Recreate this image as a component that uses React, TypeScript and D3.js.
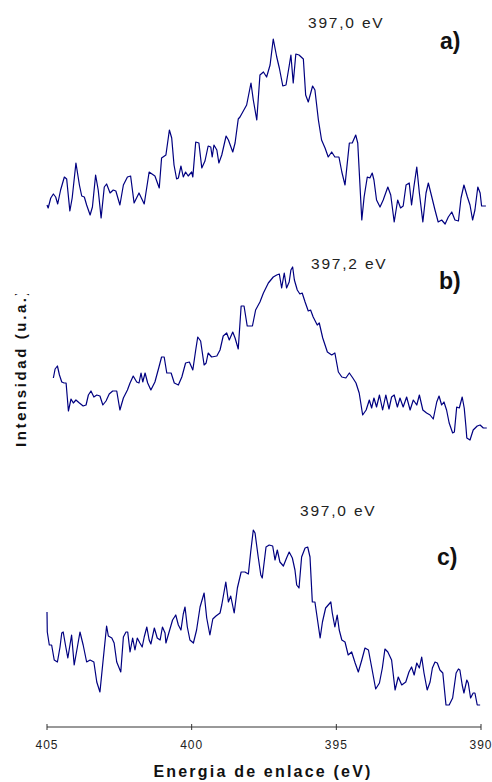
import React from 'react';
import {scaleLinear, line} from 'd3';

// XPS N1s spectra, [binding energy (eV), intensity (a.u.)]
const seriesA: [number, number][] = [
	[405.0, 42], [404.96, 39], [404.87, 49], [404.78, 53], [404.70, 50], [404.63, 43], [404.53, 57], [404.40, 70],
	[404.32, 68], [404.21, 36], [404.13, 49], [404.00, 84], [403.88, 62], [403.80, 51], [403.71, 50], [403.63, 42],
	[403.51, 32], [403.43, 40], [403.32, 72], [403.23, 57], [403.13, 29], [403.02, 60], [402.94, 63], [402.82, 54],
	[402.71, 57], [402.62, 56], [402.48, 42], [402.36, 62], [402.22, 70], [402.11, 71], [401.99, 44], [401.82, 54],
	[401.64, 43], [401.47, 75], [401.27, 71], [401.12, 59], [401.04, 89], [400.89, 92], [400.77, 117], [400.69, 109],
	[400.61, 82], [400.52, 68], [400.46, 69], [400.37, 81], [400.29, 70], [400.21, 75], [400.12, 71], [400.00, 75],
	[399.96, 70], [399.86, 105], [399.75, 104], [399.65, 79], [399.54, 86], [399.43, 101], [399.34, 100], [399.29, 90],
	[399.23, 102], [399.13, 97], [399.06, 84], [398.96, 92], [398.81, 111], [398.73, 107], [398.58, 95], [398.50, 104],
	[398.39, 128], [398.33, 130], [398.10, 142], [397.95, 164], [397.87, 147], [397.75, 127], [397.64, 172], [397.52, 175],
	[397.41, 170], [397.29, 182], [397.18, 208], [397.06, 190], [396.97, 179], [396.85, 161], [396.74, 162], [396.63, 181],
	[396.57, 192], [396.49, 164], [396.40, 193], [396.29, 192], [396.14, 188], [396.06, 152], [395.97, 145], [395.82, 161],
	[395.74, 157], [395.62, 127], [395.51, 107], [395.39, 99], [395.28, 90], [395.16, 95], [395.05, 90], [394.91, 90],
	[394.81, 75], [394.70, 62], [394.55, 104], [394.45, 104], [394.33, 112], [394.26, 104], [394.12, 27], [394.04, 50],
	[393.93, 70], [393.84, 69], [393.76, 74], [393.70, 67], [393.61, 47], [393.49, 40], [393.38, 47], [393.22, 60],
	[393.12, 52], [393.00, 25], [392.88, 47], [392.78, 39], [392.69, 41], [392.59, 62], [392.48, 64], [392.40, 42],
	[392.32, 60], [392.22, 80], [392.13, 54], [392.01, 25], [391.90, 54], [391.82, 64], [391.70, 50], [391.59, 37],
	[391.48, 25], [391.36, 27], [391.24, 23], [391.13, 30], [391.01, 35], [390.90, 27], [390.78, 26], [390.69, 49],
	[390.59, 62], [390.47, 50], [390.38, 42], [390.29, 27], [390.21, 37], [390.11, 60], [390.03, 54], [389.98, 41],
	[389.83, 41]
];

const seriesB: [number, number][] = [
	[404.78, 69], [404.72, 78], [404.64, 81], [404.57, 72], [404.49, 65], [404.41, 64], [404.34, 64], [404.26, 36],
	[404.17, 48], [404.09, 44], [404.00, 47], [403.88, 44], [403.75, 41], [403.65, 42], [403.57, 52], [403.48, 56],
	[403.38, 50], [403.28, 52], [403.17, 51], [403.07, 42], [402.96, 46], [402.85, 53], [402.73, 56], [402.59, 56],
	[402.48, 37], [402.36, 49], [402.22, 57], [402.13, 64], [402.02, 71], [401.90, 65], [401.82, 64], [401.75, 74],
	[401.69, 65], [401.61, 74], [401.52, 64], [401.41, 57], [401.27, 65], [401.13, 80], [401.04, 90], [400.95, 90],
	[400.86, 74], [400.71, 74], [400.60, 64], [400.46, 62], [400.34, 70], [400.21, 84], [400.08, 85], [399.96, 77],
	[399.86, 97], [399.79, 110], [399.69, 106], [399.57, 82], [399.50, 84], [399.43, 94], [399.31, 90], [399.13, 91],
	[399.02, 97], [398.91, 111], [398.79, 114], [398.70, 107], [398.58, 115], [398.50, 109], [398.39, 98], [398.29, 141],
	[398.19, 141], [398.08, 121], [397.90, 121], [397.79, 137], [397.64, 145], [397.52, 154], [397.35, 164], [397.18, 170],
	[397.06, 172], [396.97, 173], [396.89, 159], [396.80, 174], [396.72, 159], [396.63, 165], [396.57, 177], [396.51, 180],
	[396.45, 167], [396.35, 157], [396.26, 153], [396.18, 154], [396.08, 145], [395.97, 136], [395.89, 137], [395.80, 130],
	[395.66, 122], [395.59, 124], [395.47, 109], [395.31, 95], [395.16, 92], [395.05, 94], [394.93, 75], [394.81, 70],
	[394.67, 69], [394.55, 74], [394.43, 69], [394.32, 64], [394.21, 54], [394.09, 32], [393.97, 37], [393.86, 47],
	[393.78, 39], [393.70, 49], [393.61, 40], [393.51, 52], [393.40, 37], [393.29, 52], [393.18, 38], [393.09, 50],
	[393.00, 52], [392.89, 40], [392.80, 49], [392.69, 40], [392.57, 50], [392.45, 37], [392.34, 47], [392.22, 42],
	[392.13, 52], [392.01, 37], [391.88, 34], [391.76, 32], [391.65, 28], [391.53, 45], [391.45, 51], [391.36, 42],
	[391.28, 45], [391.19, 37], [391.10, 24], [390.98, 14], [390.92, 15], [390.84, 40], [390.75, 39], [390.65, 50],
	[390.58, 39], [390.52, 20], [390.49, 9], [390.38, 7], [390.27, 17], [390.13, 21], [390.03, 22], [389.92, 19],
	[389.80, 19]
];

const seriesC: [number, number][] = [
	[405.0, 115], [404.99, 95], [404.92, 82], [404.84, 82], [404.75, 67], [404.64, 65], [404.55, 80], [404.49, 94],
	[404.44, 95], [404.35, 80], [404.28, 69], [404.15, 92], [404.06, 62], [403.95, 80], [403.86, 95], [403.75, 82],
	[403.63, 65], [403.51, 67], [403.38, 65], [403.28, 45], [403.17, 35], [403.07, 64], [402.94, 101], [402.88, 91],
	[402.76, 89], [402.68, 84], [402.59, 65], [402.45, 55], [402.36, 90], [402.27, 95], [402.21, 95], [402.13, 75],
	[402.04, 89], [401.96, 77], [401.88, 89], [401.79, 84], [401.71, 80], [401.64, 90], [401.55, 100], [401.47, 87],
	[401.41, 83], [401.29, 99], [401.19, 89], [401.09, 87], [401.01, 100], [400.92, 94], [400.89, 84], [400.77, 96],
	[400.66, 107], [400.55, 112], [400.46, 102], [400.37, 97], [400.29, 113], [400.23, 120], [400.15, 100], [400.06, 87],
	[399.94, 84], [399.83, 97], [399.71, 120], [399.57, 134], [399.48, 109], [399.37, 92], [399.27, 108], [399.16, 111],
	[399.02, 114], [398.96, 122], [398.82, 145], [398.73, 125], [398.65, 131], [398.53, 114], [398.42, 139], [398.29, 155],
	[398.16, 155], [398.04, 153], [397.96, 175], [397.87, 197], [397.81, 194], [397.70, 170], [397.61, 152], [397.56, 149],
	[397.43, 180], [397.32, 182], [397.20, 181], [397.12, 167], [397.04, 177], [396.95, 165], [396.83, 161], [396.72, 169],
	[396.63, 175], [396.52, 169], [396.43, 157], [396.37, 142], [396.29, 139], [396.20, 170], [396.08, 179], [395.99, 180],
	[395.91, 170], [395.83, 125], [395.74, 125], [395.66, 109], [395.56, 89], [395.48, 105], [395.37, 119], [395.28, 122],
	[395.19, 125], [395.14, 114], [395.05, 100], [394.97, 112], [394.90, 97], [394.81, 87], [394.70, 85], [394.59, 72],
	[394.47, 75], [394.35, 64], [394.24, 55], [394.12, 67], [394.01, 79], [393.89, 77], [393.78, 60], [393.64, 38],
	[393.51, 44], [393.41, 59], [393.32, 78], [393.22, 75], [393.09, 67], [392.97, 37], [392.86, 50], [392.74, 42],
	[392.60, 45], [392.49, 55], [392.40, 60], [392.31, 52], [392.22, 64], [392.13, 59], [392.05, 70], [391.97, 54],
	[391.86, 37], [391.76, 45], [391.68, 59], [391.59, 65], [391.51, 64], [391.42, 57], [391.32, 54], [391.21, 22],
	[391.10, 22], [390.98, 29], [390.86, 54], [390.78, 58], [390.73, 57], [390.65, 42], [390.59, 34], [390.49, 47],
	[390.44, 44], [390.36, 29], [390.27, 34], [390.21, 34], [390.13, 22], [390.03, 22]
];

const spectra = [seriesA, seriesB, seriesC];
const offsets = [480, 280, 0];
const panelTags = ['a)', 'b)', 'c)'];
const peakLabels = ['397,0 eV', '397,2 eV', '397,0 eV'];
const xTicks = [405, 400, 395, 390];

const W = 492, H = 782;
const axisY = 727;
const font = '"Liberation Sans", Arial, sans-serif';

const x = scaleLinear().domain([405, 390]).range([47, 481]);
const y = scaleLinear().domain([0, 700]).range([axisY, 27]);

// label placement (pixels)
const peakPos = [[308, 28], [311, 269], [300, 516]];
const tagPos = [[440, 49], [439, 289], [437, 565]];

export default function App() {
	return (
		<svg width={W} height={H} style={{position: 'absolute', left: 0, top: 0, background: '#fff'}}>
			<defs>
				<clipPath id='ylab-clip'>
					<rect x={0} y={294} width={45} height={300} />
				</clipPath>
			</defs>

			{spectra.map((s, i) => {
				const gen = line<[number, number]>()
					.x(d => x(d[0]))
					.y(d => y(d[1] + offsets[i]));
				return (
					<path key={i} d={gen(s) || ''} fill='none' stroke='#000080' strokeWidth={1.2} strokeLinejoin='round' />
				);
			})}

			{peakLabels.map((t, i) => (
				<text key={'p' + i} x={peakPos[i][0]} y={peakPos[i][1]} fontFamily={font} fontSize={15.5}
					letterSpacing={1.8} fill='#222'>{t}</text>
			))}
			{panelTags.map((t, i) => (
				<text key={'t' + i} x={tagPos[i][0]} y={tagPos[i][1]} fontFamily={font} fontSize={23}
					fontWeight='bold' fill='#111'>{t}</text>
			))}

			{/* x axis */}
			<g>
				<line x1={x(405)} x2={x(390)} y1={axisY} y2={axisY} stroke='#333' strokeWidth={1} />
				{xTicks.map(t => (
					<g key={t} transform={`translate(${x(t)},${axisY})`}>
						<line y1={-3} y2={3} stroke='#333' />
						<text y={22} textAnchor='middle' fontFamily={font} fontSize={12} letterSpacing={1}
							fill='#222'>{t}</text>
					</g>
				))}
				<text x={263} y={777} textAnchor='middle' fontFamily={font} fontSize={16} fontWeight='bold'
					letterSpacing={2.2} fill='#111'>Energia de enlace (eV)</text>
			</g>

			{/* y label, cut off at the top as in the source figure */}
			<g clipPath='url(#ylab-clip)'>
				<text transform='translate(26,447) rotate(-90)' fontFamily={font} fontSize={15} fontWeight='bold'
					letterSpacing={2.6} fill='#111'>Intensidad (u.a.)</text>
			</g>
		</svg>
	);
}
